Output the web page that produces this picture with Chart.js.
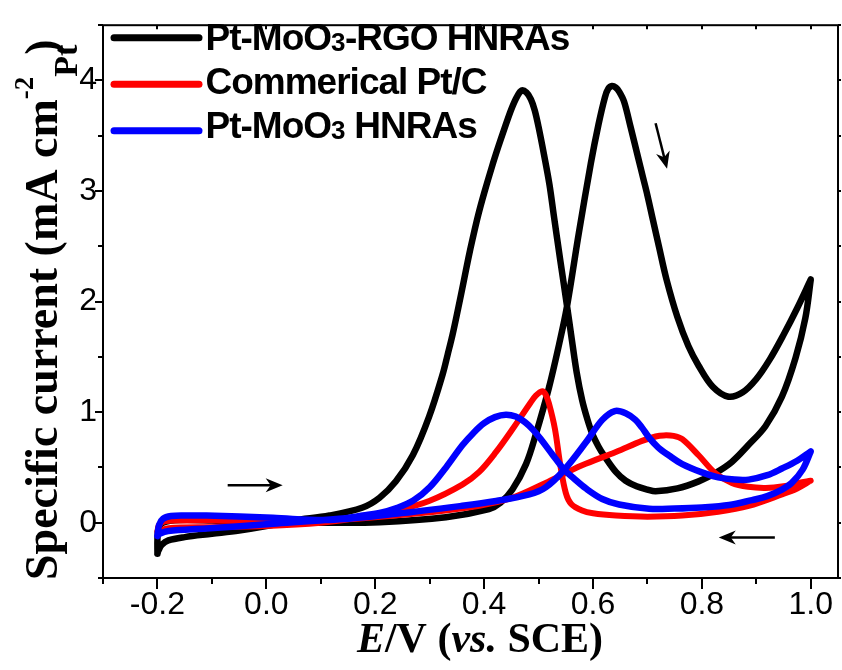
<!DOCTYPE html>
<html>
<head>
<meta charset="utf-8">
<title>Specific current vs. potential</title>
<script src="https://cdn.jsdelivr.net/npm/chart.js@4.4.0/dist/chart.umd.min.js"></script>
<style>
  html, body { margin: 0; padding: 0; background: #fff; }
  canvas { display: block; }
</style>
</head>
<body>
<canvas id="cv" width="842" height="670"></canvas>
<script>
// CV loops: potential E (V vs. SCE) and specific current I (mA cm-2 Pt),
// forward scan first, then the reverse scan back to -0.2 V.

// Pt-MoO3-RGO HNRAs
const rgoFwdE = [-0.200, -0.200, -0.198, -0.190, -0.160, -0.100, 0.000, 0.100, 0.208, 0.330, 0.409, 0.430, 0.452, 0.477, 0.495, 0.519, 0.538, 0.552, 0.574, 0.596, 0.610, 0.622, 0.628, 0.635, 0.642, 0.648, 0.657, 0.669, 0.683, 0.692, 0.700, 0.710, 0.721, 0.735, 0.755, 0.775, 0.794, 0.820, 0.849, 0.875, 0.900, 0.925, 0.950, 0.975, 1.000];
const rgoFwdI = [-0.28, -0.15, -0.05, 0.00, 0.025, 0.02, 0.00, 0.00, 0.005, 0.05, 0.124, 0.18, 0.30, 0.53, 0.80, 1.22, 1.62, 1.95, 2.62, 3.25, 3.60, 3.85, 3.925, 3.95, 3.935, 3.90, 3.81, 3.58, 3.30, 3.12, 2.96, 2.74, 2.50, 2.20, 1.86, 1.60, 1.42, 1.23, 1.14, 1.18, 1.30, 1.48, 1.70, 1.94, 2.20];
const rgoRevE = [1.000, 0.990, 0.972, 0.947, 0.917, 0.885, 0.855, 0.825, 0.794, 0.755, 0.715, 0.700, 0.680, 0.660, 0.642, 0.620, 0.610, 0.599, 0.590, 0.580, 0.570, 0.561, 0.552, 0.540, 0.528, 0.520, 0.510, 0.500, 0.493, 0.486, 0.478, 0.469, 0.460, 0.450, 0.437, 0.426, 0.415, 0.400, 0.389, 0.379, 0.371, 0.362, 0.352, 0.342, 0.333, 0.324, 0.299, 0.269, 0.238, 0.208, 0.177, 0.116, 0.050, 0.000, -0.050, -0.100, -0.150, -0.180, -0.192, -0.198, -0.200];
const rgoRevI = [2.20, 1.85, 1.49, 1.14, 0.875, 0.70, 0.55, 0.45, 0.374, 0.31, 0.285, 0.30, 0.33, 0.38, 0.46, 0.61, 0.69, 0.80, 0.93, 1.11, 1.36, 1.66, 1.97, 2.37, 2.78, 3.06, 3.33, 3.58, 3.73, 3.83, 3.89, 3.91, 3.85, 3.74, 3.56, 3.40, 3.23, 2.98, 2.78, 2.57, 2.39, 2.17, 1.93, 1.70, 1.52, 1.345, 0.96, 0.61, 0.374, 0.226, 0.138, 0.065, 0.02, -0.03, -0.07, -0.10, -0.13, -0.16, -0.20, -0.25, -0.28];

// Commerical Pt/C
const pcFwdE = [-0.200, -0.197, -0.185, -0.150, -0.100, 0.000, 0.100, 0.177, 0.299, 0.391, 0.452, 0.513, 0.550, 0.580, 0.642, 0.690, 0.715, 0.730, 0.748, 0.764, 0.794, 0.825, 0.855, 0.885, 0.917, 0.950, 0.978, 1.000];
const pcFwdI = [-0.08, -0.02, 0.015, 0.02, 0.02, 0.01, 0.02, 0.04, 0.094, 0.153, 0.226, 0.36, 0.45, 0.52, 0.64, 0.74, 0.78, 0.79, 0.785, 0.756, 0.61, 0.447, 0.36, 0.325, 0.315, 0.33, 0.36, 0.38];
const pcRevE = [1.000, 0.975, 0.947, 0.886, 0.830, 0.764, 0.700, 0.642, 0.600, 0.580, 0.560, 0.550, 0.540, 0.530, 0.519, 0.513, 0.507, 0.495, 0.483, 0.452, 0.422, 0.391, 0.360, 0.299, 0.238, 0.177, 0.100, 0.000, -0.100, -0.180, -0.200];
const pcRevI = [0.38, 0.31, 0.256, 0.153, 0.10, 0.065, 0.055, 0.065, 0.085, 0.11, 0.17, 0.27, 0.52, 0.85, 1.08, 1.16, 1.19, 1.15, 1.07, 0.845, 0.64, 0.46, 0.345, 0.197, 0.109, 0.05, 0.00, -0.03, -0.04, -0.05, -0.08];

// Pt-MoO3 HNRAs
const moFwdE = [-0.200, -0.197, -0.190, -0.175, -0.150, -0.110, 0.012, 0.116, 0.238, 0.360, 0.422, 0.483, 0.513, 0.547, 0.587, 0.617, 0.640, 0.660, 0.678, 0.690, 0.703, 0.720, 0.739, 0.764, 0.800, 0.830, 0.860, 0.886, 0.920, 0.947, 0.975, 1.000];
const moFwdI = [-0.12, -0.02, 0.035, 0.06, 0.065, 0.065, 0.044, 0.025, 0.08, 0.153, 0.197, 0.256, 0.32, 0.477, 0.727, 0.93, 1.01, 0.99, 0.93, 0.86, 0.77, 0.68, 0.61, 0.53, 0.455, 0.41, 0.39, 0.39, 0.43, 0.49, 0.56, 0.645];
const moRevE = [1.000, 0.985, 0.965, 0.947, 0.920, 0.892, 0.850, 0.800, 0.750, 0.703, 0.648, 0.617, 0.587, 0.565, 0.547, 0.525, 0.505, 0.490, 0.475, 0.458, 0.440, 0.420, 0.400, 0.380, 0.360, 0.330, 0.300, 0.270, 0.238, 0.210, 0.177, 0.134, 0.012, -0.110, -0.180, -0.196, -0.200];
const moRevI = [0.645, 0.48, 0.36, 0.30, 0.24, 0.205, 0.16, 0.138, 0.128, 0.126, 0.165, 0.215, 0.31, 0.40, 0.48, 0.62, 0.75, 0.84, 0.91, 0.96, 0.977, 0.955, 0.90, 0.81, 0.70, 0.50, 0.32, 0.20, 0.13, 0.09, 0.065, 0.035, -0.01, -0.053, -0.075, -0.10, -0.12];

const seriesNames = ['Pt-MoO3-RGO HNRAs', 'Commerical Pt/C', 'Pt-MoO3 HNRAs'];
const seriesColors = ['#000000', '#ff0000', '#0000ff'];
const seriesWidths = [6.5, 6, 6.5];

const xTickVals = [-0.2, 0.0, 0.2, 0.4, 0.6, 0.8, 1.0];
const yTickVals = [0, 1, 2, 3, 4];

// scan direction arrows, [E, I] tail -> head
const scanArrows = [
  [[-0.071, 0.338], [0.030, 0.338]],
  [[0.934, -0.133], [0.831, -0.133]],
  [[0.715, 3.613], [0.736, 3.201]]
];

function loop(fE, fI, rE, rI) {
  const pts = fE.map((e, k) => ({ x: e, y: fI[k] }));
  return pts.concat(rE.map((e, k) => ({ x: e, y: rI[k] })));
}

const sansFont = (size) => `bold ${size}px "Liberation Sans", Arial, sans-serif`;
const serifFont = (size, italic) => `${italic ? 'italic ' : ''}bold ${size}px "Liberation Serif", "Times New Roman", serif`;

// draws a row of text pieces with their own font and offsets
function drawRuns(ctx, runs, x, y) {
  for (const r of runs) {
    ctx.font = r.font;
    ctx.letterSpacing = r.spacing || '0px';
    x += r.dx || 0;
    ctx.fillText(r.text, x, y + (r.dy || 0));
    x += ctx.measureText(r.text).width;
  }
  ctx.letterSpacing = '0px';
}

function runsWidth(ctx, runs) {
  let w = 0;
  for (const r of runs) {
    ctx.font = r.font;
    ctx.letterSpacing = r.spacing || '0px';
    w += (r.dx || 0) + ctx.measureText(r.text).width;
  }
  ctx.letterSpacing = '0px';
  return w;
}

const decorations = {
  id: 'decorations',
  afterDraw(chart) {
    const { ctx, chartArea: a } = chart;
    const xs = chart.scales.x, ys = chart.scales.y;
    ctx.save();
    ctx.strokeStyle = '#000';
    ctx.fillStyle = '#000';
    ctx.lineWidth = 2;
    ctx.lineCap = 'butt';

    // frame
    ctx.strokeRect(a.left, a.top, a.right - a.left, a.bottom - a.top);

    // ticks: major and minor on bottom/left, short ones on top/right
    ctx.beginPath();
    for (let k = 0; k <= 13; k++) {
      const v = -0.3 + k * 0.1;
      const px = Math.round(xs.getPixelForValue(v));
      const major = Math.abs(Math.round(v * 10) % 2) === 0;
      ctx.moveTo(px, a.bottom);
      ctx.lineTo(px, a.bottom + (major ? 11 : 6));
      ctx.moveTo(px, a.top);
      ctx.lineTo(px, a.top + 4);
    }
    for (let k = 0; k <= 10; k++) {
      const v = -0.5 + k * 0.5;
      const py = Math.round(ys.getPixelForValue(v));
      const major = k % 2 === 1;
      ctx.moveTo(a.left, py);
      ctx.lineTo(a.left - (major ? 8 : 5), py);
      ctx.moveTo(a.right, py);
      ctx.lineTo(a.right + 3, py);
    }
    ctx.stroke();

    // scan direction arrows
    ctx.lineWidth = 2.5;
    for (const [from, to] of scanArrows) {
      const x0 = xs.getPixelForValue(from[0]), y0 = ys.getPixelForValue(from[1]);
      const x1 = xs.getPixelForValue(to[0]), y1 = ys.getPixelForValue(to[1]);
      const ang = Math.atan2(y1 - y0, x1 - x0);
      const len = Math.hypot(x1 - x0, y1 - y0);
      ctx.save();
      ctx.translate(x1, y1);
      ctx.rotate(ang);
      ctx.beginPath();
      ctx.moveTo(-len, 0);
      ctx.lineTo(-8, 0);
      ctx.stroke();
      ctx.beginPath();
      ctx.moveTo(0, 0);
      ctx.lineTo(-17, -7);
      ctx.lineTo(-12, 0);
      ctx.lineTo(-17, 7);
      ctx.closePath();
      ctx.fill();
      ctx.restore();
    }

    // legend
    const lineY = [37.7, 84.3, 130.7];
    const textY = [50, 93.5, 138.3];
    chart.data.datasets.forEach((ds, i) => {
      ctx.strokeStyle = ds.borderColor;
      ctx.lineWidth = 7;
      ctx.lineCap = 'round';
      ctx.beginPath();
      ctx.moveTo(114, lineY[i]);
      ctx.lineTo(199, lineY[i]);
      ctx.stroke();
      const parts = ds.label.split(/(?<=O)(\d)/);
      const runs = parts.map((t, j) => j % 2
        ? { text: t, font: sansFont(26), dy: 1, spacing: '-0.5px' }
        : { text: t, font: sansFont(37), spacing: '-1px' });
      ctx.fillStyle = '#000';
      ctx.textBaseline = 'alphabetic';
      ctx.textAlign = 'left';
      drawRuns(ctx, runs, 205.5, textY[i]);
    });

    // x axis title
    const xRuns = [
      { text: 'E', font: serifFont(42, true) },
      { text: '/V (', font: serifFont(42, false) },
      { text: 'vs.', font: serifFont(42, true) },
      { text: ' SCE)', font: serifFont(42, false) }
    ];
    const xw = runsWidth(ctx, xRuns);
    drawRuns(ctx, xRuns, 480 - xw / 2, 652);

    // y axis title
    ctx.save();
    ctx.translate(57, 580);
    ctx.rotate(-Math.PI / 2);
    drawRuns(ctx, [
      { text: 'Specific current (mA cm', font: serifFont(46, false) },
      { text: '-2', font: serifFont(27, false), dy: -24 },
      { text: 'Pt', font: serifFont(34, false), dy: 20 },
      { text: ')', font: serifFont(46, false), dx: -10 }
    ], 0, 0);
    ctx.restore();

    ctx.restore();
  }
};

const tickFont = { family: '"Liberation Sans", Arial, sans-serif', size: 32 };

new Chart(document.getElementById('cv'), {
  type: 'scatter',
  data: {
    datasets: [
      { data: loop(rgoFwdE, rgoFwdI, rgoRevE, rgoRevI), order: 3 },
      { data: loop(pcFwdE, pcFwdI, pcRevE, pcRevI), order: 2 },
      { data: loop(moFwdE, moFwdI, moRevE, moRevI), order: 1 }
    ].map((ds, i) => Object.assign(ds, {
      label: seriesNames[i],
      borderColor: seriesColors[i],
      backgroundColor: seriesColors[i],
      showLine: true,
      borderWidth: seriesWidths[i],
      pointRadius: 0,
      tension: 0.35,
      borderCapStyle: 'round',
      borderJoinStyle: 'round'
    }))
  },
  options: {
    responsive: false,
    animation: false,
    devicePixelRatio: 1,
    events: [],
    layout: { padding: { top: 13, right: 4, left: 0, bottom: 0 } },
    plugins: { legend: { display: false }, tooltip: { enabled: false } },
    scales: {
      x: {
        type: 'linear',
        min: -0.3,
        max: 1.05,
        grid: { display: false, drawTicks: false },
        border: { display: false },
        afterBuildTicks: (s) => { s.ticks = xTickVals.map(v => ({ value: v })); },
        afterFit: (s) => { s.height = 92; },
        ticks: {
          font: tickFont,
          color: '#000',
          padding: 8,
          maxRotation: 0,
          autoSkip: false,
          callback: (v) => Number(v).toFixed(1)
        }
      },
      y: {
        type: 'linear',
        min: -0.5,
        max: 4.5,
        grid: { display: false, drawTicks: false },
        border: { display: false },
        afterBuildTicks: (s) => { s.ticks = yTickVals.map(v => ({ value: v })); },
        afterFit: (s) => { s.width = 103; },
        ticks: {
          font: tickFont,
          color: '#000',
          padding: 6,
          autoSkip: false,
          callback: (v) => String(v)
        }
      }
    }
  },
  plugins: [decorations]
});
</script>
</body>
</html>
